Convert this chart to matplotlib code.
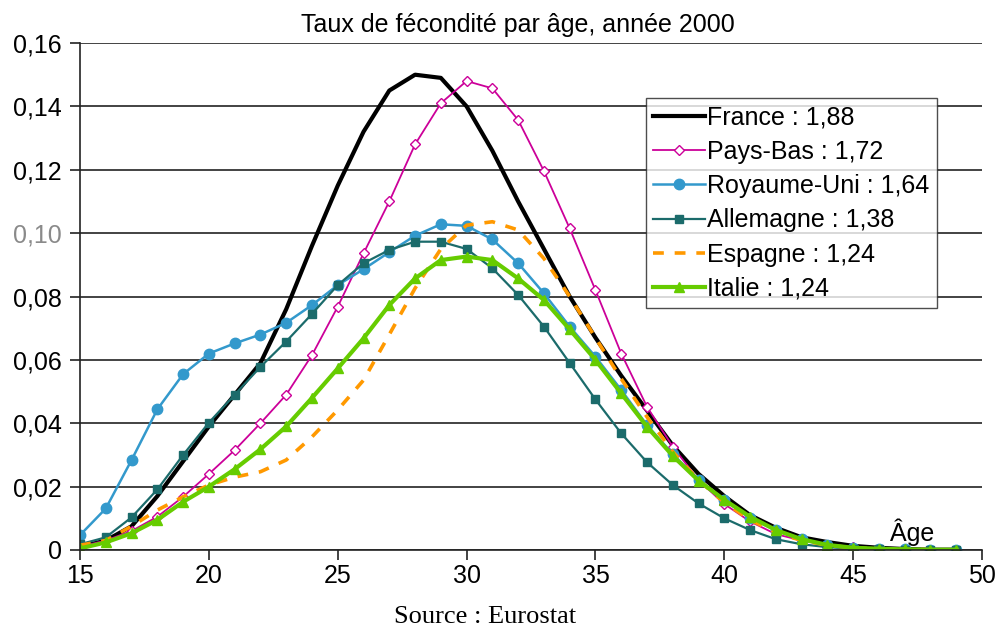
import matplotlib
matplotlib.use("Agg")
import matplotlib.pyplot as plt

plt.rcParams["font.family"] = ["Liberation Sans", "DejaVu Sans"]

ages = list(range(15, 50))

france = [0.001, 0.003, 0.0075, 0.017, 0.028, 0.039, 0.049, 0.059, 0.076, 0.096,
          0.115, 0.132, 0.145, 0.150, 0.149, 0.140, 0.126, 0.110, 0.095, 0.080,
          0.067, 0.055, 0.044, 0.033, 0.024, 0.017, 0.011, 0.007, 0.004, 0.0025,
          0.0013, 0.0007, 0.0003, 0.0001, 0.0001]
pays_bas = [0.001, 0.003, 0.006, 0.0105, 0.0168, 0.024, 0.0315, 0.040, 0.049, 0.0615,
            0.0768, 0.0936, 0.110, 0.128, 0.141, 0.148, 0.1457, 0.1357, 0.1196, 0.1015,
            0.082, 0.062, 0.0452, 0.0326, 0.022, 0.0145, 0.009, 0.005, 0.003, 0.0015,
            0.0008, 0.0004, 0.0002, 0.0001, 0.0]
royaume_uni = [0.0047, 0.0131, 0.0284, 0.0444, 0.0555, 0.062, 0.0652, 0.068, 0.0717, 0.0773,
               0.0836, 0.0886, 0.094, 0.0992, 0.1028, 0.1023, 0.098, 0.0905, 0.081, 0.0705,
               0.061, 0.0505, 0.0394, 0.0303, 0.022, 0.0158, 0.010, 0.0063, 0.0034, 0.0016,
               0.0007, 0.0004, 0.0002, 0.0001, 0.0]
allemagne = [0.0018, 0.004, 0.0103, 0.0191, 0.030, 0.0402, 0.049, 0.0578, 0.0658, 0.0745,
             0.0836, 0.0905, 0.0947, 0.0973, 0.0973, 0.095, 0.0889, 0.0805, 0.0705, 0.059,
             0.0475, 0.0368, 0.0277, 0.0205, 0.0147, 0.010, 0.0063, 0.0034, 0.0018, 0.0009,
             0.0004, 0.0002, 0.0001, 0.0, 0.0]
espagne = [0.0015, 0.003, 0.0075, 0.0126, 0.0168, 0.0205, 0.023, 0.0247, 0.0284, 0.0357,
           0.0442, 0.0536, 0.068, 0.0826, 0.095, 0.1025, 0.1036, 0.101, 0.092, 0.080,
           0.067, 0.054, 0.042, 0.031, 0.022, 0.015, 0.0095, 0.0055, 0.003, 0.0015,
           0.0007, 0.0003, 0.0002, 0.0001, 0.0]
italie = [0.0005, 0.0024, 0.0053, 0.0095, 0.0152, 0.020, 0.0255, 0.0318, 0.039, 0.048,
          0.0573, 0.0668, 0.0773, 0.0857, 0.0915, 0.0926, 0.0915, 0.0857, 0.0789, 0.0696,
          0.060, 0.0494, 0.0389, 0.0297, 0.0219, 0.0158, 0.0105, 0.0063, 0.0034, 0.0016,
          0.0007, 0.0004, 0.0002, 0.0001, 0.0001]

labels = ["France : 1,88", "Pays-Bas : 1,72", "Royaume-Uni : 1,64",
          "Allemagne : 1,38", "Espagne : 1,24", "Italie : 1,24"]

y_ticks = [0, 0.02, 0.04, 0.06, 0.08, 0.10, 0.12, 0.14, 0.16]
y_tick_labels = ["0", "0,02", "0,04", "0,06", "0,08", "0,10", "0,12", "0,14", "0,16"]
x_ticks = [15, 20, 25, 30, 35, 40, 45, 50]

fig = plt.figure(figsize=(9.98, 6.29), dpi=100)
ax = fig.add_axes([0.0802, 0.1256, 0.9038, 0.806])

ax.plot(ages, france, color="black", lw=3.0, label=labels[0])
ax.plot(ages, pays_bas, color="#CC0099", lw=1.3, marker="D", ms=5,
        mfc="white", mec="#CC0099", mew=1.0, label=labels[1])
ax.plot(ages, royaume_uni, color="#3399CC", lw=1.8, marker="o", ms=7.5,
        label=labels[2])
ax.plot(ages, allemagne, color="#1B6B6B", lw=1.6, marker="s", ms=6,
        label=labels[3])
ax.plot(ages, espagne, color="#FF9900", lw=2.6, ls=(0, (3, 3)), label=labels[4])
ax.plot(ages, italie, color="#66CC00", lw=3.0, marker="^", ms=7.5,
        label=labels[5])

ax.set_xlim(15, 50)
ax.set_ylim(0, 0.16)
ax.set_xticks(x_ticks)
ax.set_yticks(y_ticks)
ax.set_yticklabels(y_tick_labels)
ax.tick_params(axis="both", labelsize=18, length=7, width=1.2, color="#222222")
ax.tick_params(axis="y", pad=6)
ax.tick_params(axis="x", pad=3)
ax.get_yticklabels()[5].set_color("#8a8a8a")

ax.grid(axis="y", color="#222222", lw=1.2)
ax.set_axisbelow(True)
for side in ("top", "right"):
    ax.spines[side].set_visible(False)
for side in ("left", "bottom"):
    ax.spines[side].set_color("#222222")
    ax.spines[side].set_linewidth(1.2)

leg = ax.legend(loc="upper right", bbox_to_anchor=(0.950, 0.8915), borderaxespad=0,
                fontsize=18, frameon=True, fancybox=False, handlelength=2.05,
                handletextpad=0.1, labelspacing=0.41, borderpad=0.3)
leg.get_frame().set_edgecolor("#222222")
leg.get_frame().set_linewidth(1.0)

ax.text(47.3, 0.0012, "Âge", fontsize=18, ha="center", va="bottom")

fig.text(518 / 998, 1 - 25 / 629, "Taux de fécondité par âge, année 2000",
         fontsize=18, ha="center", va="center")
fig.text(485 / 998, 1 - 617 / 629, "Source : Eurostat", fontsize=19,
         ha="center", va="center", family=["Liberation Serif", "DejaVu Serif"])

fig.savefig("out.png", dpi=100)
